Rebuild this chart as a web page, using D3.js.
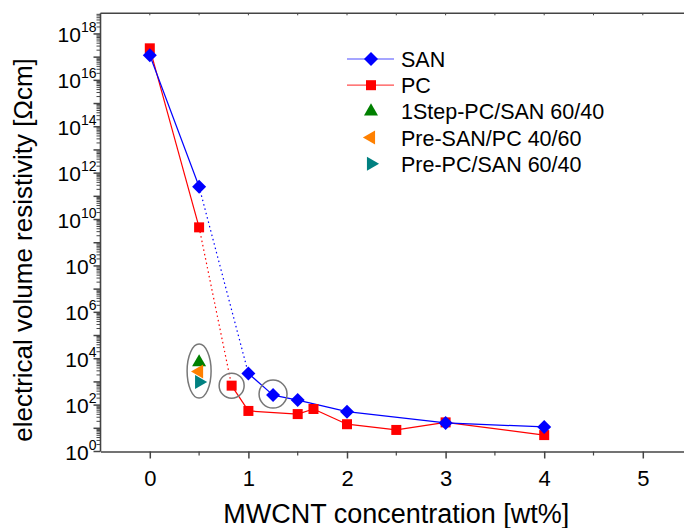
<!DOCTYPE html>
<html>
<head>
<meta charset="utf-8">
<script src="https://cdn.jsdelivr.net/npm/d3@7"></script>
<style>
  body { margin: 0; background: #fff; }
  svg { display: block; font-family: "Liberation Sans", Arial, sans-serif; }
</style>
</head>
<body>
<svg id="chart"></svg>
<script>
// MWCNT concentration [wt%] vs volume resistivity
const sanX = [0, 0.5, 1.0, 1.25, 1.5, 2.0, 3.0, 4.0];
const sanY = [1.2e17, 2.6e11, 2.3e3, 270, 165, 52, 17, 11.5];
const pcX = [0, 0.5, 0.83, 1.0, 1.5, 1.66, 2.0, 2.5, 3.0, 4.0];
const pcY = [2.4e17, 4.6e9, 690, 56, 41, 68, 15, 8.5, 18, 5.1];
const blendNames = ["1Step-PC/SAN 60/40", "Pre-SAN/PC 40/60", "Pre-PC/SAN 60/40"];
const blendX = [0.5, 0.5, 0.5];
const blendY = [7e3, 2.8e3, 1.0e3];
const xTicks = [0, 1, 2, 3, 4, 5];
const yTickExp = [0, 2, 4, 6, 8, 10, 12, 14, 16, 18];

const W = 684, H = 528;
const svg = d3.select("#chart").attr("width", W).attr("height", H);

const margin = {left: 100.5, top: 13.3, bottom: 451.5};
const xScale = d3.scaleLinear().domain([-0.5, 5.5]).range([margin.left, margin.left + 6 * 98.6]);
const yScale = d3.scaleLog().domain([1, Math.pow(10, 18.89)]).range([margin.bottom, margin.top]);

const axisColor = "#444";

// frame (top + left + bottom), right side is off the picture
svg.append("line").attr("x1", xScale(-0.5)).attr("x2", xScale(5.5))
  .attr("y1", margin.top).attr("y2", margin.top)
  .attr("stroke", axisColor).attr("stroke-width", 1.6);

// x axis
const xAxisG = svg.append("g").attr("transform", `translate(0,${margin.bottom})`);
const xAxis = d3.axisBottom(xScale).tickValues(xTicks).tickSize(7).tickSizeOuter(0).tickFormat(d3.format("d"));
xAxisG.call(xAxis);
xAxisG.select(".domain").attr("stroke", axisColor).attr("stroke-width", 1.6);
xAxisG.selectAll(".tick line").attr("stroke", axisColor).attr("stroke-width", 1.5);
xAxisG.selectAll(".tick text").attr("font-size", 22).attr("fill", "#000")
  .attr("font-family", "Liberation Sans, Arial, sans-serif").attr("y", 34).attr("dy", null);
// minor x ticks
const xMinor = d3.range(-0.5, 5.6, 1).filter(v => v > -0.5);
xAxisG.selectAll(".minor").data(xMinor).join("line")
  .attr("x1", d => xScale(d)).attr("x2", d => xScale(d))
  .attr("y1", 0).attr("y2", 4).attr("stroke", axisColor).attr("stroke-width", 1.2);
// top ticks (short, inward)
svg.append("g").selectAll("line").data(d3.range(0, 5.6, 0.5)).join("line")
  .attr("x1", d => xScale(d)).attr("x2", d => xScale(d))
  .attr("y1", margin.top).attr("y2", margin.top + 2)
  .attr("stroke", axisColor).attr("stroke-width", 1);

// y axis
const yAxisG = svg.append("g").attr("transform", `translate(${margin.left},0)`);
yAxisG.append("line").attr("x1", 0).attr("x2", 0)
  .attr("y1", margin.top).attr("y2", margin.bottom)
  .attr("stroke", axisColor).attr("stroke-width", 1.6);
const yMinor = [];
for (let e = 0; e < 19; e++) {
  for (let m = 1; m < 10; m++) {
    const v = m * Math.pow(10, e);
    if (yScale(v) >= margin.top) yMinor.push({v, major: m === 1});
  }
}
yAxisG.selectAll(".yt").data(yMinor).join("line")
  .attr("x1", d => d.major ? -7 : -4).attr("x2", 0)
  .attr("y1", d => yScale(d.v)).attr("y2", d => yScale(d.v))
  .attr("stroke", axisColor).attr("stroke-width", d => d.major ? 1.5 : 1);
const yLab = yAxisG.selectAll(".yl").data(yTickExp).join("text")
  .attr("x", -4).attr("y", d => yScale(Math.pow(10, d)) + 8)
  .attr("text-anchor", "end").attr("font-size", 21).attr("fill", "#000");
yLab.append("tspan").text("10");
yLab.append("tspan").attr("font-size", 14).attr("dy", -10).text(d => d);

// axis titles
svg.append("text").attr("x", xScale(2.5)).attr("y", 523)
  .attr("text-anchor", "middle").attr("font-size", 27).attr("fill", "#000")
  .text("MWCNT concentration [wt%]");
svg.append("text").attr("transform", `translate(32,250) rotate(-90)`)
  .attr("text-anchor", "middle").attr("font-size", 26).attr("fill", "#000")
  .text("electrical volume resistivity [\u03A9cm]");

// line segments: dotted across the percolation gap (second to third point)
function drawSeries(xs, ys, color) {
  const pts = xs.map((x, i) => [xScale(x), yScale(ys[i])]);
  const g = svg.append("g");
  for (let i = 0; i < pts.length - 1; i++) {
    g.append("line")
      .attr("x1", pts[i][0]).attr("y1", pts[i][1])
      .attr("x2", pts[i + 1][0]).attr("y2", pts[i + 1][1])
      .attr("stroke", color).attr("stroke-width", 1.2)
      .attr("stroke-dasharray", i === 1 ? "1.5,3" : null);
  }
  return pts;
}
const diamond = s => `M0,${-s}L${s},0L0,${s}L${-s},0Z`;

const pcPts = drawSeries(pcX, pcY, "#ff0000");
const sanPts = drawSeries(sanX, sanY, "#0000ff");

svg.append("g").selectAll("rect").data(pcPts).join("rect")
  .attr("x", d => d[0] - 5).attr("y", d => d[1] - 5)
  .attr("width", 10).attr("height", 10).attr("fill", "#ff0000");
svg.append("g").selectAll("path").data(sanPts).join("path")
  .attr("transform", d => `translate(${d[0]},${d[1]})`)
  .attr("d", diamond(7)).attr("fill", "#0000ff");

const blendColors = ["#008000", "#ff8000", "#008080"];
const blendRot = [0, -90, 90];
const tri = d3.symbol().type(d3.symbolTriangle).size(85);
svg.append("g").selectAll("path").data(blendY).join("path")
  .attr("transform", (d, i) => `translate(${xScale(blendX[i])},${yScale(d)}) rotate(${blendRot[i]})`)
  .attr("d", tri).attr("fill", (d, i) => blendColors[i]);

// highlight rings
const ellY = Math.sqrt(blendY[0] * blendY[2]);
svg.append("ellipse").attr("cx", xScale(blendX[0])).attr("cy", yScale(ellY) - 1)
  .attr("rx", 12).attr("ry", 27).attr("fill", "none").attr("stroke", "#777").attr("stroke-width", 1.5);
svg.append("circle").attr("cx", xScale(pcX[2])).attr("cy", yScale(pcY[2]))
  .attr("r", 12.5).attr("fill", "none").attr("stroke", "#777").attr("stroke-width", 1.5);
svg.append("circle").attr("cx", xScale(sanX[3])).attr("cy", yScale(sanY[3]) - 1)
  .attr("r", 14).attr("fill", "none").attr("stroke", "#777").attr("stroke-width", 1.5);

// legend
const legend = svg.append("g").attr("transform", "translate(347,59)");
const legRows = [
  {name: "SAN", color: "#0000ff", line: true, shape: "diamond"},
  {name: "PC", color: "#ff0000", line: true, shape: "square"},
  {name: blendNames[0], color: blendColors[0], shape: "tri", rot: 0},
  {name: blendNames[1], color: blendColors[1], shape: "tri", rot: -90},
  {name: blendNames[2], color: blendColors[2], shape: "tri", rot: 90}
];
legRows.forEach((r, i) => {
  const g = legend.append("g").attr("transform", `translate(0,${i * 26.2})`);
  if (r.line) {
    g.append("line").attr("x1", 0).attr("x2", 47).attr("y1", 0).attr("y2", 0)
      .attr("stroke", r.color).attr("stroke-opacity", 0.7).attr("stroke-width", 1.2);
  }
  if (r.shape === "diamond") {
    g.append("path").attr("transform", "translate(24,0)").attr("d", diamond(7)).attr("fill", r.color);
  } else if (r.shape === "square") {
    g.append("rect").attr("x", 19).attr("y", -5).attr("width", 10).attr("height", 10).attr("fill", r.color);
  } else {
    g.append("path").attr("transform", `translate(24,0) rotate(${r.rot})`).attr("d", tri).attr("fill", r.color);
  }
  g.append("text").attr("x", 54).attr("y", 8).attr("font-size", 21.5).attr("fill", "#000").text(r.name);
});
</script>
</body>
</html>
